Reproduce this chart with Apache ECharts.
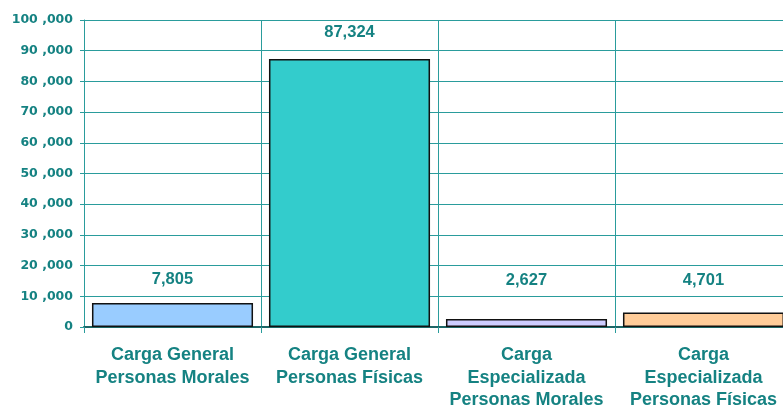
<!DOCTYPE html>
<html>
<head>
<meta charset="utf-8">
<script src="https://cdn.jsdelivr.net/npm/echarts@6/dist/echarts.min.js"></script>
<style>html,body{margin:0;padding:0;background:#fff}#c{width:783px;height:407px}</style>
</head>
<body>
<div id="c"></div>
<script>
const categories = [
  'Carga General\nPersonas Morales',
  'Carga General\nPersonas Físicas',
  'Carga\nEspecializada\nPersonas Morales',
  'Carga\nEspecializada\nPersonas Físicas'
];
const values = [7805, 87324, 2627, 4701];
const yTickLabels = ['0', '10 ,000', '20 ,000', '30 ,000', '40 ,000', '50 ,000', '60 ,000', '70 ,000', '80 ,000', '90 ,000', '100 ,000'];

const barColors = ['#99CCFF', '#33CCCC', '#CCCCFF', '#FFCC99'];
const labelDistances = [15, 18, 30, 24];
const teal = '#158282';
const gridColor = '#2a9c9c';

const chart = echarts.init(document.getElementById('c'));
chart.setOption({
  animation: false,
  grid: { left: 84, width: 708, top: 20, bottom: 80, containLabel: false, outerBoundsMode: 'none' },
  xAxis: {
    type: 'category',
    data: categories,
    boundaryGap: true,
    axisLine: { show: true, lineStyle: { color: '#1d6666', width: 2 } },
    axisTick: { show: true, length: 6, lineStyle: { color: gridColor } },
    splitLine: { show: true, lineStyle: { color: gridColor, width: 1 } },
    axisLabel: {
      interval: 0,
      margin: 17,
      color: teal,
      fontFamily: 'Liberation Sans, Arial, sans-serif',
      fontWeight: 'bold',
      fontSize: 18,
      lineHeight: 22.5,
      verticalAlign: 'top'
    }
  },
  yAxis: {
    type: 'value',
    min: 0,
    max: 100000,
    interval: 10000,
    axisLine: { show: true, lineStyle: { color: gridColor, width: 1 } },
    axisTick: { show: true, length: 4, lineStyle: { color: gridColor } },
    splitLine: { show: true, lineStyle: { color: gridColor, width: 1 } },
    axisLabel: {
      margin: 11,
      color: teal,
      fontFamily: 'DejaVu Sans, Verdana, sans-serif',
      fontWeight: 'bold',
      fontSize: 12.5,
      formatter: function (v) { return yTickLabels[Math.round(v / 10000)]; }
    }
  },
  series: [{
    type: 'bar',
    barCategoryGap: '9%',
    data: values.map(function (v, i) {
      return {
        value: v,
        itemStyle: { color: barColors[i], borderColor: '#111', borderWidth: 1.5 },
        label: { distance: labelDistances[i] }
      };
    }),
    label: {
      show: true,
      position: 'top',
      color: teal,
      fontFamily: 'Liberation Sans, Arial, sans-serif',
      fontWeight: 'bold',
      fontSize: 16.5,
      formatter: function (p) { return p.value.toLocaleString('en-US'); }
    }
  }]
});
</script>
</body>
</html>
